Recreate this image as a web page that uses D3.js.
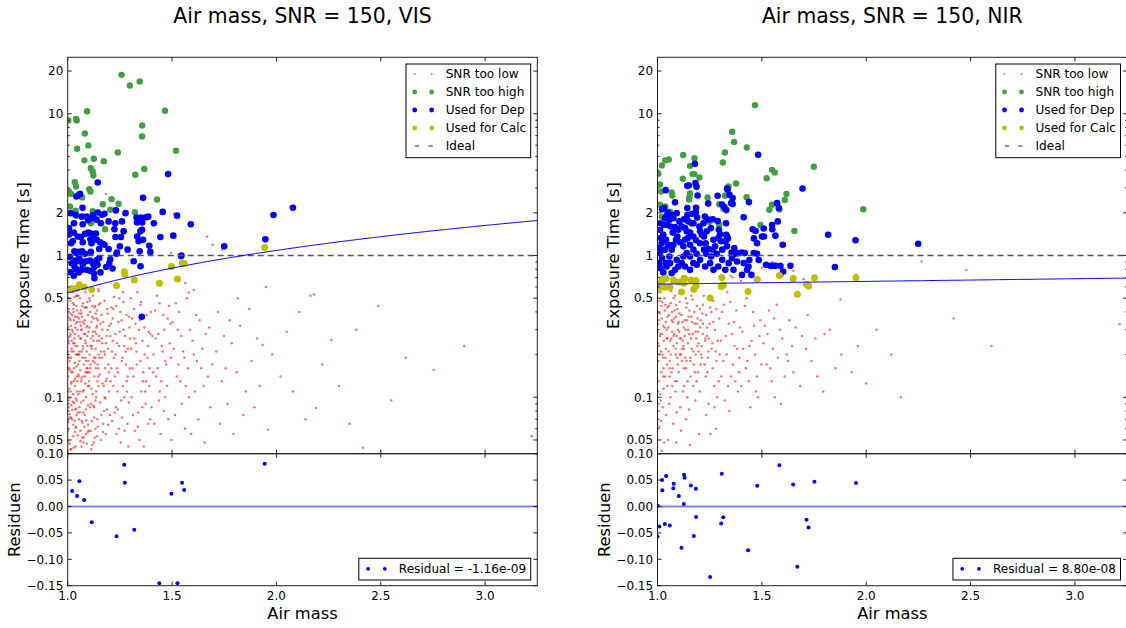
<!DOCTYPE html>
<html>
<head>
<meta charset="utf-8">
<script src="https://cdn.jsdelivr.net/npm/d3@7"></script>
<style>
  body { margin: 0; background: #fff; }
  svg { display: block; font-family: "DejaVu Sans", sans-serif; }
</style>
</head>
<body>
<svg id="chart" width="1126" height="628"></svg>
<script>
// ---------- text ----------
const panelTitles = ["Air mass, SNR = 150, VIS", "Air mass, SNR = 150, NIR"];
const legendLabels = ["SNR too low", "SNR too high", "Used for Dep", "Used for Calc", "Ideal"];
const residualLabels = ["Residual = -1.16e-09", "Residual = 8.80e-08"];
const xLabel = "Air mass";
const yLabel = "Exposure Time [s]";
const resLabel = "Residuen";

// ---------- ticks ----------
const airmassTicks = [1.0, 1.5, 2.0, 2.5, 3.0];
const timeTicks = [0.05, 0.1, 0.5, 1, 2, 10, 20];
const residualTicks = [0.10, 0.05, 0.00, -0.05, -0.10, -0.15];

// ---------- reference / fit ----------
const idealTime = 1;
const visFit = [0.0, 0.543];      // t = a + b * airmass
const nirFit = [0.5991, 0.0289];

// ---------- VIS data: [airmass, exposure time s] ----------
const visTooLow = [
[1.003,0.31],[1.017,0.072],[1.008,0.19],[1.041,0.44],[1.026,0.053],[1.012,0.27],[1.035,0.12],[1.004,0.085],[1.047,0.23],[1.021,0.38],[1.009,0.047],[1.031,0.16],[1.014,0.58],[1.044,0.095],[1.002,0.14],[1.038,0.33],[1.019,0.21],[1.027,0.064],[1.006,0.42],[1.049,0.17],[1.015,0.11],[1.033,0.51],[1.001,0.058],[1.024,0.29],[1.042,0.075],[1.011,0.36],[1.029,0.13],[1.046,0.62],[1.005,0.24],[1.037,0.045],[1.018,0.15],[1.032,0.26],[1.007,0.099],[1.045,0.34],[1.022,0.081],[1.013,0.48],[1.039,0.2],[1.003,0.067],[1.028,0.4],[1.016,0.125],[1.048,0.054],[1.036,0.28],[1.009,0.18],[1.024,0.55],[1.043,0.14],[1.002,0.37],[1.031,0.091],[1.019,0.22],[1.04,0.062],[1.006,0.5],[1.026,0.105],[1.047,0.3],[1.014,0.043],[1.034,0.175],[1.004,0.265],[1.021,0.07],[1.044,0.41],[1.011,0.155],[1.03,0.35],[1.017,0.088],[1.038,0.23],[1.001,0.19],[1.049,0.078],[1.025,0.46],[1.008,0.115],[1.035,0.057],[1.015,0.32],[1.042,0.165],[1.003,0.049],[1.028,0.21],[1.02,0.6],[1.046,0.13],[1.012,0.39],[1.033,0.068],[1.005,0.25],[1.039,0.098],[1.023,0.15],[1.01,0.072],[1.044,0.52],[1.027,0.24],[1.016,0.043],[1.036,0.37],[1.002,0.11],[1.048,0.2],[1.021,0.3],[1.007,0.16],[1.03,0.45],[1.041,0.083],[1.013,0.28],[1.034,0.135],
[1.052,0.27],[1.071,0.066],[1.088,0.18],[1.063,0.41],[1.097,0.12],[1.056,0.085],[1.079,0.33],[1.091,0.047],[1.067,0.21],[1.084,0.55],[1.053,0.14],[1.075,0.095],[1.099,0.29],[1.061,0.058],[1.086,0.24],[1.069,0.37],[1.094,0.16],[1.058,0.5],[1.081,0.075],[1.065,0.13],[1.092,0.43],[1.055,0.2],[1.077,0.052],[1.089,0.31],[1.072,0.11],[1.098,0.064],[1.059,0.34],[1.083,0.19],[1.066,0.045],[1.095,0.23],[1.051,0.105],[1.074,0.46],[1.087,0.082],[1.062,0.26],[1.093,0.15],[1.057,0.39],[1.078,0.17],[1.096,0.057],[1.068,0.3],[1.085,0.125],[1.054,0.07],[1.073,0.22],[1.09,0.59],[1.064,0.092],[1.082,0.35],[1.099,0.18],[1.06,0.155],[1.076,0.048],[1.093,0.27],[1.07,0.44],[1.087,0.1],[1.056,0.21],[1.08,0.062],[1.097,0.38],[1.066,0.135],[1.084,0.25],[1.052,0.52],[1.075,0.078],[1.091,0.16],[1.063,0.32],[1.088,0.055],[1.071,0.19],[1.058,0.11],[1.095,0.47],[1.079,0.28],[1.067,0.068],[1.083,0.14],[1.054,0.36],[1.098,0.088],[1.072,0.23],
[1.002,0.21],[1.024,0.093],[1.047,0.37],[1.061,0.049],[1.083,0.28],[1.109,0.17],[1.132,0.44],[1.018,0.128],[1.039,0.061],[1.071,0.14],[1.094,0.32],[1.127,0.085],[1.148,0.2],[1.008,0.56],[1.033,0.24],[1.056,0.18],[1.078,0.112],[1.101,0.058],[1.12,0.27],[1.143,0.13],[1.013,0.35],[1.029,0.044],[1.051,0.145],[1.066,0.39],[1.089,0.069],[1.115,0.22],[1.138,0.31],[1.004,0.095],[1.043,0.52],[1.062,0.26],[1.085,0.15],[1.106,0.48],[1.129,0.052],[1.016,0.19],[1.037,0.31],[1.058,0.078],[1.081,0.43],[1.103,0.12],[1.124,0.36],[1.146,0.16],[1.009,0.076],[1.027,0.42],[1.049,0.2],[1.074,0.34],[1.096,0.15],[1.118,0.046],[1.141,0.25],[1.02,0.25],[1.045,0.11],[1.069,0.052],[1.092,0.21],[1.114,0.34],[1.136,0.1],[1.001,0.16],[1.036,0.082],[1.064,0.3],[1.087,0.43],[1.111,0.09],[1.133,0.19],[1.149,0.56],
[1.104,0.31],[1.127,0.072],[1.153,0.19],[1.118,0.44],[1.172,0.12],[1.141,0.053],[1.109,0.16],[1.186,0.27],[1.133,0.095],[1.162,0.38],[1.115,0.23],[1.194,0.064],[1.146,0.14],[1.122,0.52],[1.178,0.2],[1.107,0.085],[1.157,0.33],[1.136,0.11],[1.169,0.057],[1.112,0.26],[1.189,0.42],[1.144,0.17],[1.125,0.048],[1.165,0.24],[1.102,0.13],[1.181,0.098],[1.149,0.45],[1.131,0.29],[1.197,0.15],[1.116,0.068],[1.159,0.21],[1.138,0.36],[1.174,0.08],[1.121,0.18],[1.192,0.3],[1.143,0.062],[1.108,0.4],[1.167,0.125],[1.134,0.22],[1.183,0.055],[1.151,0.27],[1.119,0.105],[1.176,0.48],[1.128,0.14],[1.161,0.075],[1.105,0.2],[1.195,0.17],[1.139,0.32],[1.155,0.092],[1.124,0.25],[1.187,0.135],[1.147,0.58],[1.113,0.043],[1.171,0.34],[1.135,0.16],[1.198,0.11],[1.117,0.37],[1.164,0.19],[1.142,0.07],[1.129,0.43],[1.184,0.24],[1.106,0.15],[1.158,0.05],[1.137,0.28],[1.179,0.16],[1.123,0.087],[1.191,0.39],[1.148,0.12],[1.111,0.23],[1.166,0.3],[1.132,0.06],[1.175,0.21],[1.103,0.5],[1.154,0.145],[1.14,0.41],[1.188,0.082],[1.126,0.19],[1.163,0.26],[1.114,0.115],[1.193,0.22],[1.145,0.35],[1.17,0.065],[1.12,0.29],[1.182,0.13],[1.13,0.175],[1.156,0.46],[1.199,0.32],[1.11,0.058],[1.152,0.25],[1.177,0.1],[1.134,0.39],
[1.204,0.27],[1.231,0.085],[1.262,0.19],[1.218,0.42],[1.283,0.13],[1.245,0.06],[1.209,0.16],[1.296,0.31],[1.237,0.24],[1.271,0.1],[1.215,0.36],[1.254,0.048],[1.288,0.22],[1.226,0.14],[1.267,0.47],[1.202,0.075],[1.249,0.29],[1.279,0.17],[1.234,0.055],[1.258,0.35],[1.212,0.21],[1.293,0.092],[1.241,0.15],[1.275,0.27],[1.222,0.51],[1.264,0.12],[1.207,0.33],[1.286,0.065],[1.229,0.2],[1.252,0.4],[1.298,0.16],[1.239,0.11],[1.273,0.058],[1.216,0.25],[1.259,0.18],[1.282,0.38],[1.225,0.078],[1.246,0.23],[1.205,0.13],[1.268,0.3],[1.291,0.045],[1.233,0.44],[1.256,0.095],[1.277,0.21],[1.213,0.068],[1.243,0.34],[1.287,0.14],[1.221,0.19],[1.265,0.55],[1.236,0.16],[1.299,0.26],[1.21,0.43],[1.26,0.072],[1.228,0.28],[1.284,0.11],[1.248,0.5],[1.219,0.12],[1.27,0.23],[1.24,0.082],[1.294,0.37],
[1.304,0.22],[1.338,0.078],[1.367,0.31],[1.315,0.14],[1.382,0.19],[1.349,0.45],[1.322,0.058],[1.391,0.12],[1.358,0.25],[1.309,0.36],[1.373,0.09],[1.331,0.17],[1.396,0.28],[1.344,0.05],[1.318,0.42],[1.362,0.15],[1.386,0.065],[1.327,0.24],[1.353,0.11],[1.378,0.38],[1.306,0.1],[1.341,0.3],[1.369,0.2],[1.334,0.55],[1.392,0.16],[1.313,0.075],[1.357,0.085],[1.384,0.23],[1.325,0.33],[1.365,0.045],[1.348,0.18],[1.398,0.4],[1.319,0.26],[1.376,0.13],[1.336,0.062],[1.389,0.29],[1.352,0.47],[1.311,0.16],[1.371,0.11],[1.329,0.21],[1.395,0.07],[1.346,0.35],[1.36,0.13],[1.302,0.5],
[1.406,0.27],[1.437,0.095],[1.468,0.18],[1.419,0.41],[1.482,0.07],[1.451,0.23],[1.424,0.14],[1.493,0.33],[1.445,0.055],[1.411,0.2],[1.476,0.12],[1.458,0.38],[1.431,0.16],[1.489,0.24],[1.402,0.085],[1.463,0.3],[1.441,0.11],[1.497,0.05],[1.427,0.52],[1.472,0.17],[1.415,0.065],[1.455,0.21],[1.486,0.44],[1.434,0.28],[1.467,0.1],[1.409,0.15],[1.479,0.36],[1.448,0.13],[1.495,0.19],[1.421,0.26],[1.46,0.08],[1.44,0.46],
[1.508,0.22],[1.547,0.09],[1.586,0.3],[1.523,0.14],[1.619,0.18],[1.562,0.06],[1.534,0.4],[1.651,0.12],[1.598,0.25],[1.514,0.075],[1.577,0.16],[1.632,0.35],[1.553,0.21],[1.684,0.085],[1.527,0.3],[1.609,0.11],[1.571,0.5],[1.645,0.22],[1.54,0.13],[1.693,0.17],[1.518,0.46],[1.592,0.055],[1.661,0.28],[1.559,0.19],[1.626,0.07],[1.503,0.34],[1.672,0.14],[1.582,0.1],[1.544,0.27],[1.615,0.38],[1.656,0.048],[1.531,0.17],[1.604,0.2],[1.678,0.31],[1.566,0.12],[1.64,0.16],[1.564,0.64],[1.58,0.548],[1.604,0.57],[1.508,1.97],[1.495,1.04],[1.668,1.36],[1.694,1.19],[1.74,1.1],
[1.712,0.21],[1.765,0.09],[1.826,0.32],[1.738,0.13],[1.881,0.18],[1.794,0.055],[1.72,0.4],[1.853,0.11],[1.907,0.26],[1.757,0.16],[1.842,0.075],[1.786,0.24],[1.934,0.234],[1.95,0.6],[1.96,0.059],[1.73,0.065],[1.81,0.15],[1.87,0.42],[1.92,0.12],[1.98,0.2],[1.776,0.35],[1.895,0.085],[1.749,0.27],[1.815,0.5],
[2.02,0.14],[2.05,0.29],[2.08,0.11],[2.11,0.4],[2.14,0.07],[2.18,0.53],[2.163,0.52],[2.19,0.084],[2.22,0.17],[2.263,0.254],[2.3,0.12],[2.35,0.065],[2.383,0.3],[2.415,0.044],[2.488,0.44],[2.55,0.095],[2.62,0.19],[2.753,0.156],[2.9,0.23],[3.223,0.053],[1.184,2.71]
];
const visTooHigh = [
[1.258,18.8],[1.298,15.8],[1.345,16.9],[1.093,10.4],[1.466,10.5],[1.003,8.97],[1.04,9.2],[1.043,8.97],[1.357,8.27],[1.082,7.26],
[1.356,6.92],[1.045,5.66],[1.099,5.98],[1.519,5.48],[1.24,5.33],[1.08,4.69],[1.125,4.81],[1.173,4.63],[1.111,4.13],[1.12,3.9],
[1.123,3.67],[1.367,4.07],[1.324,3.71],[1.034,3.29],[1.04,3.07],[1.006,2.83],[1.016,2.72],[1.103,2.94],[1.109,2.83],[1.069,2.57],
[1.21,2.5],[1.244,2.32],[1.428,2.48],[1.168,2.3],[1.011,2.22],[1.038,2.07],[1.12,2.05],[1.204,2.1],[1.322,2.02],[1.042,1.905],
[1.111,1.69],[1.179,1.53]
];
const visUsedDep = [
[1.481,3.75],[1.144,3.27],[1.059,2.72],[1.048,2.65],[1.042,2.61],[1.361,2.55],[1.014,1.99],[1.037,1.94],[1.071,2.17],[1.067,1.88],
[1.091,1.88],[1.12,1.92],[1.144,2.01],[1.165,1.94],[1.176,1.97],[1.231,2.08],[1.277,1.99],[1.33,1.85],[1.351,1.85],[1.375,1.86],
[1.386,1.88],[1.332,1.71],[1.357,1.71],[1.413,1.69],[1.455,2.03],[1.524,1.91],[1.59,1.66],[1.03,1.69],[1.072,1.66],[1.098,1.77],
[1.115,1.84],[1.138,1.79],[1.159,1.69],[1.006,1.56],[1.008,1.41],[1.029,1.45],[1.016,1.22],[1.024,1.26],[1.048,1.36],[1.063,1.35],
[1.072,1.24],[1.083,1.42],[1.099,1.45],[1.112,1.43],[1.125,1.40],[1.135,1.43],[1.109,1.30],[1.114,1.22],[1.139,1.29],[1.155,1.24],
[1.167,1.21],[1.176,1.19],[1.196,1.11],[1.151,1.11],[1.111,1.06],[1.053,1.06],[1.032,1.07],[1.042,1.04],[1.011,0.98],[1.019,0.88],
[1.032,0.84],[1.043,0.80],[1.016,0.76],[1.029,0.72],[1.053,0.76],[1.067,0.79],[1.093,0.79],[1.107,0.78],[1.127,0.83],[1.143,0.86],
[1.12,0.88],[1.107,0.92],[1.139,0.93],[1.151,0.96],[1.125,0.75],[1.128,0.69],[1.157,0.76],[1.184,0.83],[1.224,1.53],[1.229,1.35],
[1.268,1.48],[1.255,1.35],[1.25,1.16],[1.236,1.05],[1.234,1.03],[1.204,0.94],[1.199,0.88],[1.215,0.81],[1.287,1.10],[1.316,0.91],
[1.333,1.36],[1.34,1.26],[1.348,1.48],[1.356,1.52],[1.345,1.07],[1.391,1.17],[1.396,1.06],[1.361,1.29],[1.444,1.35],[1.506,1.38],
[1.543,0.99],[1.349,0.84],[1.228,1.69],[1.26,1.74],[1.196,1.74],[1.069,1.07],[1.054,1.01],[1.059,0.93],[1.083,1.03],[1.046,0.91],
[1.072,0.86],[1.037,0.92],[1.087,0.91],[1.947,1.30],[1.986,1.93],[2.079,2.17],[1.75,1.16],[1.545,1.0],[1.355,0.37]
];
const visUsedCalc = [
[1.021,0.584],[1.045,0.587],[1.056,0.621],[1.079,0.598],[1.115,0.575],[1.234,0.614],[1.271,0.769],[1.274,0.737],
[1.319,0.672],[1.439,0.636],[1.497,0.837],[1.526,0.683],[1.548,0.886],[1.558,0.877],[1.944,1.137]
];
const visResiduals = [
[1.021,0.0293],[1.045,0.0199],[1.056,0.0477],[1.079,0.0123],[1.115,-0.030],[1.234,-0.0565],[1.271,0.079],[1.274,0.045],
[1.319,-0.044],[1.439,-0.1455],[1.497,0.0243],[1.526,-0.1455],[1.548,0.045],[1.558,0.0312],[1.944,0.081]
];

// ---------- NIR data ----------
const nirTooLow = [
[1.003,0.33],[1.018,0.15],[1.009,0.48],[1.041,0.22],[1.026,0.085],[1.012,0.27],[1.035,0.41],[1.004,0.18],[1.047,0.12],[1.021,0.36],[1.009,0.062],[1.031,0.25],[1.014,0.55],[1.044,0.3],[1.002,0.11],[1.038,0.19],[1.019,0.44],[1.027,0.14],[1.006,0.23],[1.049,0.37],[1.015,0.095],[1.033,0.5],[1.001,0.29],[1.024,0.2],[1.042,0.075],[1.011,0.39],[1.029,0.16],[1.046,0.26],[1.005,0.13],[1.037,0.45],[1.018,0.21],[1.032,0.048],[1.007,0.35],[1.045,0.17],[1.022,0.28],[1.013,0.105],[1.039,0.58],[1.003,0.24],[1.028,0.32],[1.016,0.068],[1.048,0.43],[1.036,0.14],[1.025,0.19],[1.02,0.042],
[1.052,0.31],[1.071,0.12],[1.088,0.22],[1.063,0.46],[1.097,0.17],[1.056,0.09],[1.079,0.36],[1.091,0.27],[1.067,0.15],[1.084,0.52],[1.053,0.21],[1.075,0.065],[1.099,0.33],[1.061,0.25],[1.086,0.11],[1.069,0.4],[1.094,0.19],[1.058,0.14],[1.081,0.28],[1.065,0.56],[1.092,0.078],[1.055,0.38],[1.077,0.23],[1.089,0.45],[1.072,0.16],[1.098,0.3],[1.059,0.18],[1.083,0.13],[1.066,0.26],[1.095,0.42],[1.051,0.05],[1.074,0.34],[1.087,0.2],[1.062,0.1],[1.093,0.24],[1.078,0.5],[1.09,0.048],[1.07,0.29],
[1.011,0.2],[1.034,0.31],[1.057,0.16],[1.082,0.41],[1.106,0.26],[1.131,0.35],[1.158,0.19],[1.183,0.29],[1.207,0.17],[1.233,0.38],[1.023,0.47],[1.046,0.26],[1.068,0.35],[1.093,0.13],[1.117,0.18],[1.142,0.46],[1.166,0.34],[1.191,0.23],[1.218,0.33],[1.244,0.21],[1.005,0.4],[1.029,0.115],[1.054,0.44],[1.077,0.27],[1.101,0.34],[1.126,0.22],[1.152,0.28],[1.179,0.15],[1.203,0.42],[1.227,0.25],[1.015,0.28],[1.04,0.34],[1.064,0.2],[1.089,0.37],[1.113,0.26],[1.137,0.16],[1.163,0.37],[1.188,0.33],[1.213,0.19],[1.238,0.31],
[1.104,0.29],[1.127,0.16],[1.153,0.41],[1.118,0.22],[1.172,0.12],[1.141,0.35],[1.109,0.085],[1.186,0.26],[1.133,0.19],[1.162,0.52],[1.115,0.38],[1.194,0.15],[1.146,0.24],[1.122,0.11],[1.178,0.33],[1.107,0.47],[1.157,0.18],[1.136,0.07],[1.169,0.28],[1.112,0.2],[1.189,0.44],[1.144,0.13],[1.125,0.31],[1.165,0.22],[1.102,0.15],[1.181,0.095],[1.149,0.37],[1.131,0.27],[1.197,0.21],[1.116,0.55],[1.159,0.14],[1.138,0.43],[1.174,0.17],[1.121,0.25],[1.192,0.36],[1.143,0.1],[1.108,0.2],[1.167,0.49],[1.134,0.3],[1.183,0.2],[1.151,0.082],[1.119,0.34],[1.176,0.4],[1.128,0.12],[1.161,0.26],[1.105,0.39],[1.195,0.29],[1.139,0.18],[1.155,0.046],[1.124,0.23],[1.187,0.13],[1.147,0.3],[1.113,0.058],[1.171,0.21],[1.135,0.5],[1.198,0.24],
[1.204,0.31],[1.231,0.14],[1.262,0.24],[1.218,0.45],[1.283,0.18],[1.245,0.09],[1.209,0.2],[1.296,0.36],[1.237,0.27],[1.271,0.12],[1.215,0.39],[1.254,0.055],[1.288,0.25],[1.226,0.17],[1.267,0.48],[1.202,0.11],[1.249,0.33],[1.279,0.21],[1.234,0.075],[1.258,0.4],[1.212,0.23],[1.293,0.13],[1.241,0.19],[1.275,0.3],[1.222,0.52],[1.264,0.16],[1.207,0.35],[1.286,0.1],[1.229,0.26],[1.252,0.43],[1.298,0.2],[1.239,0.15],[1.273,0.085],[1.216,0.28],[1.259,0.22],[1.282,0.42],[1.246,0.26],[1.268,0.34],[1.2,0.055],[1.28,0.06],
[1.304,0.25],[1.338,0.12],[1.367,0.34],[1.315,0.18],[1.382,0.22],[1.349,0.47],[1.322,0.095],[1.391,0.15],[1.358,0.28],[1.309,0.4],[1.373,0.13],[1.331,0.2],[1.396,0.31],[1.344,0.08],[1.318,0.45],[1.362,0.17],[1.386,0.11],[1.327,0.27],[1.353,0.14],[1.378,0.41],[1.306,0.14],[1.341,0.33],[1.369,0.23],[1.334,0.55],[1.392,0.19],[1.36,0.7],[1.33,0.8],[1.35,0.72],[1.3,0.7],
[1.406,0.29],[1.437,0.13],[1.468,0.2],[1.419,0.44],[1.482,0.1],[1.451,0.25],[1.424,0.16],[1.493,0.35],[1.445,0.085],[1.411,0.22],[1.476,0.14],[1.458,0.4],[1.431,0.18],[1.489,0.27],[1.402,0.12],[1.463,0.32],[1.441,0.23],[1.497,0.17],[1.427,0.5],[1.472,0.11],[1.45,0.75],[1.4,0.66],[1.5,0.82],
[1.508,0.24],[1.547,0.13],[1.586,0.3],[1.523,0.17],[1.619,0.2],[1.562,0.1],[1.534,0.41],[1.651,0.15],[1.598,0.26],[1.514,0.32],[1.577,0.19],[1.632,0.35],[1.553,0.22],[1.684,0.12],[1.527,0.28],[1.609,0.14],[1.571,0.45],[1.645,0.23],[1.54,0.16],[1.693,0.27],[1.592,0.09],[1.661,0.31],[1.559,0.36],[1.626,0.18],[1.55,0.9],[1.65,0.78],[1.6,0.72],[1.7,0.68],
[1.712,0.22],[1.765,0.14],[1.826,0.3],[1.738,0.18],[1.881,0.2],[1.794,0.11],[1.72,0.38],[1.853,0.16],[1.757,0.26],[1.877,0.49],[1.8,0.28],[1.93,0.15],[1.96,0.23],
[2.0,0.125],[2.05,0.3],[2.166,0.1],[2.265,0.907],[2.48,0.79],[2.419,0.36],[3.214,0.328],[2.6,0.23],[2.12,0.2]
];
const nirTooHigh = [
[1.467,11.5],[1.358,7.46],[1.367,6.31],[1.428,5.78],[1.323,5.33],[1.313,4.53],[1.749,4.23],[1.123,5.11],[1.054,4.76],[1.037,4.69],
[1.177,4.86],[1.156,4.29],[1.021,4.32],[1.004,3.77],[1.121,3.48],[1.168,3.75],[1.176,3.75],[1.201,3.55],[1.549,4.02],[1.562,3.85],
[1.523,3.51],[1.376,3.22],[1.34,3.07],[1.012,3.17],[1.017,2.83],[1.068,2.78],[1.071,2.65],[1.156,2.74],[1.153,2.58],[1.24,2.57],
[1.323,2.64],[1.427,2.58],[1.618,2.72],[1.61,2.46],[1.549,2.28],[1.536,2.1],[1.584,2.11],[1.012,2.28],[1.037,2.22],[1.06,2.04],
[1.021,1.88],[1.151,2.48],[1.296,2.3],[1.316,2.14],[1.044,1.88],[1.248,1.73],[1.296,1.65],[1.493,1.64],[1.656,1.49],[1.986,2.12]
];
const nirUsedDep = [
[1.482,5.13],[1.179,4.43],[1.695,2.97],[1.039,2.89],[1.084,2.37],[1.143,3.10],[1.15,3.12],[1.182,3.24],[1.187,3.05],[1.192,2.65],
[1.288,2.64],[1.333,2.97],[1.345,2.68],[1.336,2.91],[1.353,2.34],[1.36,2.54],[1.438,2.38],[1.243,2.33],[1.309,2.29],[1.32,2.2],
[1.33,2.09],[1.36,2.31],[1.143,2.16],[1.185,2.17],[1.184,2.01],[1.166,1.97],[1.19,1.85],[1.573,2.34],[1.581,2.16],[1.576,1.74],
[1.413,1.86],[1.227,1.88],[1.244,1.79],[1.265,1.80],[1.288,1.75],[1.328,1.69],[1.294,1.52],[1.3,1.41],[1.337,1.32],[1.333,1.36],
[1.456,1.53],[1.47,1.49],[1.462,1.32],[1.509,1.55],[1.51,1.36],[1.55,1.53],[1.565,1.38],[1.6,1.19],[1.549,1.64],[1.818,1.40],
[1.949,1.28],[1.85,0.83],[1.602,0.77],[1.637,0.845],[1.589,0.845],[1.541,0.845],[1.554,0.845],[1.565,0.845],[1.52,0.86],[1.485,0.93],
[1.477,1.03],[1.461,1.04],[1.44,0.93],[1.418,1.04],[1.405,1.05],[1.386,1.04],[1.374,1.03],[1.413,0.883],[1.45,0.73],[1.436,0.836],
[1.368,1.13],[1.355,1.05],[1.333,1.16],[1.326,1.26],[1.304,1.26],[1.329,1.40],[1.244,1.11],[1.276,1.16],[1.265,1.10],[1.233,1.03],
[1.223,1.10],[1.204,1.22],[1.185,1.28],[1.172,1.36],[1.156,1.45],[1.14,1.48],[1.132,1.56],[1.116,1.60],[1.1,1.52],[1.084,1.59],
[1.063,1.60],[1.047,1.64],[1.031,1.65],[1.012,1.69],[1.012,1.52],[1.028,1.40],[1.015,1.33],[1.02,1.22],[1.009,1.13],[1.012,1.04],
[1.022,0.958],[1.009,0.883],[1.015,0.814],[1.028,0.758],[1.044,0.836],[1.06,0.883],[1.057,0.984],[1.068,1.10],[1.076,1.19],[1.089,1.29],
[1.095,1.36],[1.108,1.24],[1.124,1.16],[1.132,1.29],[1.145,1.33],[1.156,1.19],[1.172,1.10],[1.188,1.03],[1.156,0.984],[1.14,1.04],
[1.124,0.984],[1.116,0.883],[1.1,0.836],[1.084,0.792],[1.068,0.75],[1.092,0.932],[1.132,0.836],[1.156,0.792],[1.172,0.883],[1.188,0.86],
[1.204,0.932],[1.228,0.836],[1.252,0.883],[1.268,0.792],[1.291,0.836],[1.325,0.792],[1.341,0.883],[1.357,0.958],[1.381,0.907],[1.212,1.40],
[1.236,1.48],[1.256,1.56],[1.268,1.29],[1.292,1.33],[1.22,1.69],[1.201,1.60],[1.172,1.69],[1.148,1.74],[1.127,1.80],[1.105,1.74],
[1.076,1.83],[1.057,1.79],[1.036,1.83],[1.049,2.01],[1.044,1.90],[1.031,2.16],[1.022,2.12],[1.068,1.94],[1.092,1.99],[1.143,1.93],
[1.164,1.69],[1.204,1.48],[1.223,1.36],[1.036,1.10],[1.052,1.19],[1.041,0.883],[1.041,1.29],[1.231,1.22],[1.073,1.45],[1.257,0.984],
[1.284,1.03],[1.31,1.10],[1.31,0.932],[1.364,0.792],[1.405,0.73],[1.429,0.792],[1.477,1.22],[1.501,1.36],[2.249,1.21]
];
const nirUsedCalc = [
[1.001,0.630],[1.009,0.590],[1.0,0.571],[1.022,0.679],[1.023,0.660],[1.041,0.687],[1.035,0.597],[1.059,0.594],
[1.078,0.673],[1.076,0.665],[1.102,0.651],[1.115,0.553],[1.127,0.692],[1.13,0.686],[1.126,0.636],[1.16,0.673],
[1.174,0.577],[1.184,0.667],[1.185,0.613],[1.252,0.502],[1.305,0.605],[1.308,0.699],[1.315,0.617],[1.434,0.558],
[1.478,0.681],[1.584,0.723],[1.65,0.689],[1.67,0.533],[1.714,0.624],[1.724,0.609],[1.752,0.697],[1.951,0.700]
];
const nirResiduals = [
[1.001,0.0015],[1.009,-0.038],[1.0,-0.057],[1.022,0.050],[1.023,0.031],[1.041,0.058],[1.035,-0.033],[1.059,-0.036],
[1.078,0.043],[1.076,0.0345],[1.102,0.020],[1.115,-0.078],[1.127,0.060],[1.13,0.0545],[1.126,0.0047],[1.16,0.040],
[1.174,-0.056],[1.184,0.0337],[1.185,-0.020],[1.252,-0.1335],[1.305,-0.032],[1.308,0.062],[1.315,-0.0205],[1.434,-0.083],
[1.478,0.0394],[1.584,0.0779],[1.65,0.0419],[1.67,-0.114],[1.714,-0.025],[1.724,-0.040],[1.752,0.047],[1.951,0.0444]
];

// ---------- drawing ----------
const svg = d3.select("#chart");
const defs = svg.append("defs");
const W = 469.6, H = 396.4, RH = 132, TOP = 57.3;
const TICK_FS = 12, LEG_FS = 12.1, LABEL_FS = 16.3, TITLE_FS = 20.4;
const COL = { low: "#ff0000", high: "#40a040", dep: "#0000ff", calc: "#bfbf00", ideal: "#555555", frame: "#222222" };

const panels = [
  { left: 67.7, title: panelTitles[0], low: visTooLow, high: visTooHigh, dep: visUsedDep, calc: visUsedCalc, res: visResiduals, fit: visFit, resText: residualLabels[0] },
  { left: 657.5, title: panelTitles[1], low: nirTooLow, high: nirTooHigh, dep: nirUsedDep, calc: nirUsedCalc, res: nirResiduals, fit: nirFit, resText: residualLabels[1] }
];

const x = d3.scaleLinear().domain([1, 3.25]).range([0, W]);
const y = d3.scaleLog().domain([0.04, 25]).range([H, 0]);
const yr = d3.scaleLinear().domain([-0.15, 0.10]).range([H + RH, H]);
const fmtRes = d3.format(".2f");

// minor tick positions on the log axis
const minorTicks = [];
for (let k = -2; k <= 1; k++) {
  for (let n = 1; n <= 9; n++) {
    const v = +(n * Math.pow(10, k)).toPrecision(3);
    if (v >= 0.04 && v <= 25 && !timeTicks.some(t => Math.abs(t - v) < 1e-9)) minorTicks.push(v);
  }
}

function dots(sel, data, cls, xs, ys, r, fill, op) {
  sel.selectAll("circle." + cls).data(data).join("circle")
    .attr("class", cls)
    .attr("cx", d => xs(d[0])).attr("cy", d => ys(d[1]))
    .attr("r", r).attr("fill", fill).attr("fill-opacity", op);
}

function line(g, x1, y1, x2, y2, stroke, w) {
  return g.append("line").attr("x1", x1).attr("y1", y1).attr("x2", x2).attr("y2", y2)
    .attr("stroke", stroke).attr("stroke-width", w);
}

panels.forEach((p, i) => {
  const g = svg.append("g").attr("transform", `translate(${p.left},${TOP})`);

  defs.append("clipPath").attr("id", "clipMain" + i)
    .append("rect").attr("x", 0).attr("y", 0).attr("width", W).attr("height", H);
  defs.append("clipPath").attr("id", "clipRes" + i)
    .append("rect").attr("x", 0).attr("y", H).attr("width", W).attr("height", RH);

  // ----- exposure time panel -----
  const main = g.append("g").attr("clip-path", `url(#clipMain${i})`);
  dots(main, p.low, "low", x, y, 1.25, COL.low, 0.55);
  dots(main, p.high, "high", x, y, 3.2, COL.high, 1);
  dots(main, p.dep, "dep", x, y, 3.3, COL.dep, 1);
  dots(main, p.calc, "calc", x, y, 3.5, COL.calc, 1);

  line(main, 0, y(idealTime), W, y(idealTime), COL.ideal, 1.3).attr("stroke-dasharray", "6,4");

  const fitX = d3.range(1, 3.2501, 0.01);
  main.append("path")
    .attr("d", d3.line().x(v => x(v)).y(v => y(p.fit[0] + p.fit[1] * v))(fitX))
    .attr("fill", "none").attr("stroke", COL.dep).attr("stroke-width", 1);

  // ----- residual panel -----
  const res = g.append("g").attr("clip-path", `url(#clipRes${i})`);
  line(res, 0, yr(0), W, yr(0), "#8080ff", 2);
  dots(res, p.res, "res", x, yr, 2, COL.dep, 1);

  // ----- frames -----
  g.append("rect").attr("x", 0).attr("y", 0).attr("width", W).attr("height", H)
    .attr("fill", "none").attr("stroke", COL.frame).attr("stroke-width", 1);
  g.append("rect").attr("x", 0).attr("y", H).attr("width", W).attr("height", RH)
    .attr("fill", "none").attr("stroke", COL.frame).attr("stroke-width", 1);

  // ----- x ticks -----
  airmassTicks.forEach(v => {
    const xx = x(v);
    line(g, xx, 0, xx, 4, COL.frame, 1);
    line(g, xx, H, xx, H - 4, COL.frame, 1);
    line(g, xx, H, xx, H + 4, COL.frame, 1);
    line(g, xx, H + RH, xx, H + RH - 4, COL.frame, 1);
    g.append("text").attr("x", xx).attr("y", H + RH + 14.2)
      .attr("text-anchor", "middle").attr("font-size", TICK_FS).text(v.toFixed(1));
  });

  // ----- y ticks (log) -----
  timeTicks.forEach(v => {
    const yy = y(v);
    line(g, 0, yy, 4, yy, COL.frame, 1);
    line(g, W, yy, W - 4, yy, COL.frame, 1);
    g.append("text").attr("x", -4.4).attr("y", yy).attr("dy", "0.36em")
      .attr("text-anchor", "end").attr("font-size", TICK_FS).text(String(v));
  });
  minorTicks.forEach(v => {
    const yy = y(v);
    line(g, 0, yy, 2, yy, COL.frame, 1);
    line(g, W, yy, W - 2, yy, COL.frame, 1);
  });

  // ----- residual ticks -----
  residualTicks.forEach(v => {
    const yy = yr(v);
    line(g, 0, yy, 4, yy, COL.frame, 1);
    line(g, W, yy, W - 4, yy, COL.frame, 1);
    g.append("text").attr("x", -4.4).attr("y", yy).attr("dy", "0.36em")
      .attr("text-anchor", "end").attr("font-size", TICK_FS).text(fmtRes(v));
  });

  // ----- labels -----
  g.append("text").attr("x", W / 2).attr("y", -34.6).attr("text-anchor", "middle")
    .attr("font-size", TITLE_FS).text(p.title);
  g.append("text").attr("x", W / 2).attr("y", 561.7).attr("text-anchor", "middle")
    .attr("font-size", LABEL_FS).text(xLabel);
  g.append("text").attr("transform", `translate(-38.5,${H / 2}) rotate(-90)`)
    .attr("text-anchor", "middle").attr("font-size", LABEL_FS).text(yLabel);
  g.append("text").attr("transform", `translate(-47.2,${H + RH / 2}) rotate(-90)`)
    .attr("text-anchor", "middle").attr("font-size", LABEL_FS).text(resLabel);

  // ----- main legend -----
  const LW = 124.7, LH = 93.7;
  const lg = g.append("g").attr("transform", `translate(${W - 6.6 - LW},6.7)`);
  lg.append("rect").attr("width", LW).attr("height", LH)
    .attr("fill", "#fff").attr("stroke", "#000").attr("stroke-width", 1);
  const items = [
    { color: COL.low, r: 1.1, op: 0.5 },
    { color: COL.high, r: 2.4, op: 1 },
    { color: COL.dep, r: 2.4, op: 1 },
    { color: COL.calc, r: 2.4, op: 1 },
    { dash: true }
  ];
  items.forEach((it, j) => {
    const cy = 10 + 18 * j;
    if (it.dash) {
      line(lg, 8.9, cy, 13.2, cy, COL.ideal, 1.3);
      line(lg, 22.4, cy, 26.7, cy, COL.ideal, 1.3);
    } else {
      [8.7, 25.7].forEach(cx => lg.append("circle").attr("cx", cx).attr("cy", cy)
        .attr("r", it.r).attr("fill", it.color).attr("fill-opacity", it.op));
    }
    lg.append("text").attr("x", 39.7).attr("y", cy).attr("dy", "0.36em")
      .attr("font-size", LEG_FS).text(legendLabels[j]);
  });

  // ----- residual legend -----
  const rg = g.append("g");
  const rt = rg.append("text").attr("x", 0).attr("y", 0).attr("dy", "0.36em")
    .attr("font-size", LEG_FS).text(p.resText);
  const tw = rt.node().getComputedTextLength();
  const RW = 40 + tw + 4.5, RHt = 21.7;
  const rx = W - 6.6 - RW, ry = H + RH - 5.7 - RHt;
  rg.insert("rect", "text").attr("x", rx).attr("y", ry).attr("width", RW).attr("height", RHt)
    .attr("fill", "#fff").attr("stroke", "#000").attr("stroke-width", 1);
  rt.attr("x", rx + 40).attr("y", ry + 10.5);
  [9.3, 26].forEach(cx => rg.append("circle").attr("cx", rx + cx).attr("cy", ry + 10.5)
    .attr("r", 1.9).attr("fill", COL.dep));
});
</script>
</body>
</html>
